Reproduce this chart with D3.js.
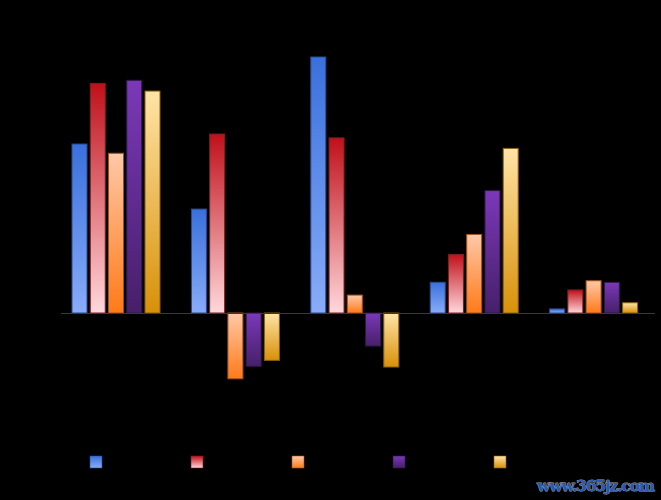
<!DOCTYPE html>
<html>
<head>
<meta charset="utf-8">
<script src="https://cdn.jsdelivr.net/npm/d3@7/dist/d3.min.js"></script>
<style>
html,body{margin:0;padding:0;background:#000;}
svg{display:block;}
</style>
</head>
<body>
<svg id="chart" width="661" height="500"></svg>
<script>
const categories = ["1", "2", "3", "4", "5"];
const seriesNames = ["系列1", "系列2", "系列3", "系列4", "系列5"];
const series1 = [66.0, 40.6, 100.0, 12.0, 1.6];
const series2 = [89.7, 69.9, 68.4, 22.9, 9.0];
const series3 = [62.4, -25.7, 7.0, 30.7, 12.6];
const series4 = [90.9, -20.8, -12.9, 47.8, 12.0];
const series5 = [86.7, -18.5, -21.1, 64.3, 4.0];
const allSeries = [series1, series2, series3, series4, series5];
const gradTop = ["#3a70dc", "#c0101a", "#ffc8a8", "#7b38b8", "#ffe4a6"];
const gradBottom = ["#88acf8", "#ffd8dc", "#ff7a18", "#46206a", "#d89008"];
const strokeCols = ["#2a4a90", "#7a2020", "#a05020", "#301848", "#8a6010"];

const svg = d3.select("#chart");
svg.append("rect").attr("width", 661).attr("height", 500).attr("fill", "#000");

const defs = svg.append("defs");
gradTop.forEach((c, i) => {
  const g = defs.append("linearGradient").attr("id", "g" + i)
    .attr("x1", 0).attr("y1", 0).attr("x2", 0).attr("y2", 1);
  g.append("stop").attr("offset", "0%").attr("stop-color", c);
  g.append("stop").attr("offset", "100%").attr("stop-color", gradBottom[i]);
});

const innerW = 88;
const x0 = d3.scaleBand().domain(categories).range([56.3, 653.3]).paddingInner(0).paddingOuter(0);
const x1 = d3.scaleBand().domain(d3.range(5)).range([0, innerW]).paddingInner(0.178).paddingOuter(0);
const offset = (x0.bandwidth() - innerW) / 2;
const y = d3.scaleLinear().domain([-50, 100]).range([441, 57]);

const groups = svg.append("g").selectAll("g").data(categories).join("g")
  .attr("transform", d => `translate(${x0(d) + offset},0)`);

groups.selectAll("rect").data((d, ci) => allSeries.map((s, si) => ({si, v: s[ci]})))
  .join("rect")
  .attr("x", d => x1(d.si))
  .attr("width", x1.bandwidth())
  .attr("y", d => y(Math.max(0, d.v)))
  .attr("height", d => Math.abs(y(d.v) - y(0)))
  .attr("fill", d => `url(#g${d.si})`)
  .attr("stroke", d => strokeCols[d.si])
  .attr("stroke-width", 1);

// zero axis line
svg.append("line")
  .attr("x1", 61).attr("x2", 655)
  .attr("y1", y(0) + 0.5).attr("y2", y(0) + 0.5)
  .attr("stroke", "#3a3a3a").attr("stroke-width", 1);

// legend
const legend = svg.append("g").selectAll("g").data(seriesNames).join("g")
  .attr("transform", (d, i) => `translate(${90 + i * 101},456)`);
legend.append("rect").attr("width", 12).attr("height", 12)
  .attr("fill", (d, i) => `url(#g${i})`)
  .attr("stroke", (d, i) => strokeCols[i]).attr("stroke-width", 0.6);
legend.append("text").attr("x", 17).attr("y", 10)
  .attr("font-family", "Noto Sans CJK SC, sans-serif").attr("font-size", 11)
  .attr("fill", "#000").text(d => d);

// watermark
svg.append("text")
  .attr("x", 537).attr("y", 491)
  .attr("font-family", "DejaVu Serif, serif").attr("font-weight", "bold")
  .attr("font-size", 15.5)
  .attr("textLength", 118)
  .attr("fill", "#2a5ab0").attr("stroke", "#9aa0a8").attr("stroke-width", 0.9)
  .attr("paint-order", "stroke")
  .text("www.365jz.com");
</script>
</body>
</html>
